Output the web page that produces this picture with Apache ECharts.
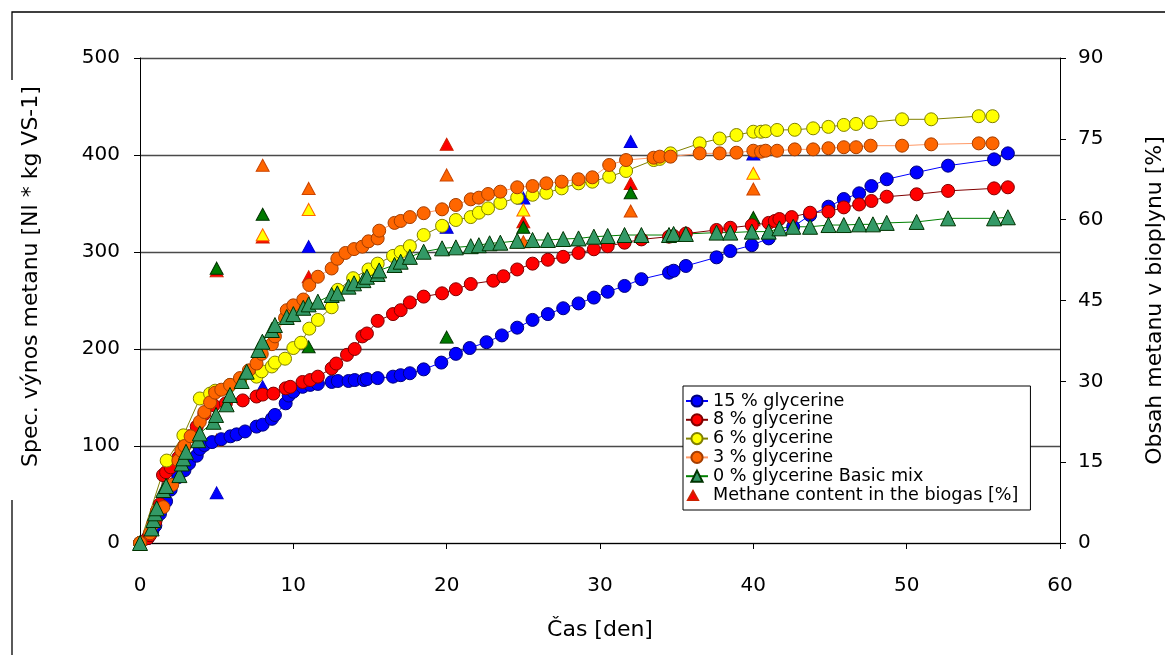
<!DOCTYPE html>
<html>
<head>
<meta charset="utf-8">
<script src="https://cdn.jsdelivr.net/npm/echarts@6/dist/echarts.min.js"></script>
<style>
html,body{margin:0;padding:0;background:#fff;}
#chart{width:1165px;height:655px;}
</style>
</head>
<body>
<div id="chart"></div>
<script>
// 15 % glycerine
var blueX = [0,0.5,0.8,1,1.3,1.7,2,2.5,2.9,3.2,3.7,3.9,4.2,4.7,5.3,5.9,6.3,6.85,7.6,8,8.6,8.8,9.5,9.7,10,10.6,11.1,11.6,12.5,12.9,13.6,14,14.6,14.8,15.5,16.5,17,17.6,18.5,19.65,20.6,21.5,22.6,23.6,24.6,25.6,26.6,27.6,28.6,29.6,30.5,31.6,32.7,34.5,34.8,35.6,37.6,38.5,39.9,41,42.6,43.7,44.9,45.9,46.9,47.7,48.7,50.65,52.7,55.7,56.6];
var blueY = [0,5,12,18,30,43,55,68,75,82,90,97,101,104,107,110,112,115,120,122,128,132,144,152,156,161,163,164,166,167,167,168,168,169,170,171.5,173,175,179,186,195,201,207,214,222,230,236,242,247,253,259,265,272,278.7,280.7,285.6,294.5,301,307,314,326,338,346.7,354.6,360.5,368,375,382,389,395.5,401.7];

// 8 % glycerine
var redX = [0,0.5,0.65,1,1.3,1.5,1.7,2,2.5,2.9,3.2,3.7,4.2,4.8,5.6,6.7,7.6,8,8.7,9.5,9.8,10.6,11.1,11.6,12.5,12.8,13.5,14,14.5,14.8,15.5,16.5,17,17.6,18.5,19.7,20.6,21.57,23.04,23.7,24.6,25.6,26.6,27.6,28.6,29.6,30.5,31.6,32.7,34.5,34.8,35.6,37.6,38.5,39.9,41,41.4,41.7,42.5,43.7,44.9,45.9,46.9,47.7,48.7,50.65,52.7,55.7,56.6];
var redY = [0,5,8,22,40,70,73,78,88,100,110,120,133,142,144,147,151,153,154,159.5,161,166,168,171.5,180,185,194,200,213,216,229,236,240,248,254,257.4,261.6,267,270.4,275,282,288,292,295,299,302.8,306,309.6,313,315.8,316.5,319,322.7,325,327.5,330,332,334,336,340.5,341.6,346,349,352.6,357,359.5,363,365.6,366.7];

// 6 % glycerine
var yellowX = [0,1.74,2.83,3.9,4.57,4.9,5.87,6.52,7.6,7.94,8.6,8.8,9.46,10,10.5,11.04,11.6,12.5,12.9,13.9,14.9,15.5,16.5,17,17.6,18.5,19.7,20.6,21.57,22.1,22.7,23.5,24.6,25.6,26.5,27.5,28.6,29.5,30.6,31.7,33.5,33.9,34.6,36.5,37.8,38.9,40,40.5,40.8,41.55,42.7,43.9,44.9,45.9,46.7,47.65,49.7,51.6,54.7,55.6];
var yellowY = [0,85,111,149,154,157,163,166,171.5,177,182,186,190,201,206.5,221,230,243,261,273,282,288,296,300,306,317.5,327,333,336,340.5,345,350.5,356,359,361,365.6,370.8,372.5,377.6,383.5,394.8,396,401.7,412,417,420.6,424,424,424.5,425.8,426,427.5,429,431,432,433.7,436.8,436.8,440,440];

// 3 % glycerine
var orangeX = [0,0.65,0.87,1.1,1.52,2.1,2.5,2.7,2.9,3.3,3.9,4.2,4.57,4.9,5.3,5.87,6.52,7.1,7.6,7.94,8.6,8.8,9.46,9.57,10,10.65,11.04,11.6,12.5,12.87,13.4,13.96,14.5,14.9,15.5,15.6,16.6,17,17.6,18.5,19.7,20.6,21.57,22.1,22.7,23.5,24.6,25.6,26.5,27.5,28.6,29.5,30.6,31.7,33.5,33.9,34.6,36.5,37.8,38.9,40,40.5,40.8,41.55,42.7,43.9,44.9,45.9,46.7,47.65,49.7,51.6,54.7,55.6];
var orangeY = [0,10,20,33,37,60,85,95,100,110,125,135,145,155,158,163,170,178,185,195,205,213,232,240,245,251,266,274.5,283,293,299,303,305.5,311,314,322,330,332,336,340,344,348.5,354.3,356,359.8,362.2,366.7,368,370.8,372.5,375,377,389.7,394.8,397.2,398.3,398.3,401.7,401.7,402.4,404.4,403.4,404.4,404.4,405.8,405.8,407,408,408,409.6,409.6,411,412,412];

// 0 % glycerine Basic mix
var greenX = [0,0.76,0.87,0.98,1.09,1.52,1.7,2.57,2.72,2.83,3,3.8,3.9,4.8,4.96,5.65,5.87,6.63,6.96,7.72,7.98,8.6,8.8,9.57,10,10.65,11,11.6,12.5,12.87,13.6,13.96,14.57,14.8,15.5,15.6,16.6,17,17.6,18.5,19.7,20.6,21.57,22.1,22.8,23.5,24.6,25.6,26.6,27.6,28.6,29.6,30.5,31.6,32.7,34.5,34.8,35.6,37.6,38.5,39.9,41,41.7,42.6,43.7,44.9,45.9,46.9,47.8,48.7,50.65,52.7,55.7,56.6];
var greenY = [0,15,23.7,30.6,35.8,54.6,58.8,70,82,87.3,94,106,113,125,132,143,152.6,167,176.6,199,207.5,219.6,224.7,233,236,242.5,246,248.8,255.7,257.4,264.3,267.7,271,274.5,277.3,281,286.6,290,295,300.3,303.8,304.8,306,307,309,309.6,311.5,312.4,312.4,313.4,314,315.8,316.5,317.5,317.5,317.5,318.6,318.6,320,320,321,321,324.4,326,326,327.8,327.8,328.5,328.5,330,331,334.7,334.7,335.8];

// Methane content in the biogas [%] (right axis), one set per mixture
var methDays = [5,8,11,20,25,32,40];
var methBlue = [9.3,29.0,55.0,58.6,64.0,74.5,72.2];
var methRed = [50.5,56.8,49.4,74.0,59.6,66.7,60.0];
var methYellowDays = [8,11,25,40];
var methYellow = [57.2,61.9,61.8,68.6];
var methOrange = [19.1,70.1,65.8,68.3,55.9,61.6,65.7];
var methGreen = [51.0,61.0,36.4,38.2,58.6,65.0,60.4];

function pairs(xs, ys) {
    var out = [];
    for (var i = 0; i < xs.length; i++) out.push([xs[i], ys[i]]);
    return out;
}

var FONT = 'DejaVu Sans';
var chart = echarts.init(document.getElementById('chart'), null, {renderer: 'canvas'});

function lineSeries(name, xs, ys, fill, border, lineColor, symbol, size) {
    return {
        name: name,
        type: 'line',
        data: pairs(xs, ys),
        symbol: symbol,
        symbolSize: size,
        showAllSymbol: true,
        lineStyle: {color: lineColor, width: 1},
        itemStyle: {color: fill, borderColor: border, borderWidth: 1},
        emphasis: {disabled: true},
        animation: false
    };
}

function methSeries(name, xs, ys, fill, border) {
    return {
        name: name,
        type: 'scatter',
        yAxisIndex: 1,
        data: pairs(xs, ys),
        symbol: 'triangle',
        symbolSize: [13, 12],
        itemStyle: {color: fill, borderColor: border, borderWidth: 1, opacity: 1},
        emphasis: {disabled: true},
        animation: false,
        z: 3
    };
}

var option = {
    backgroundColor: '#fff',
    animation: false,
    textStyle: {fontFamily: FONT},
    grid: {left: 140, right: 105, top: 58, bottom: 112, outerBoundsMode: 'none'},
    legend: {
        orient: 'vertical',
        left: 683,
        top: 386,
        padding: [6, 12, 6, 2],
        itemGap: 0.8,
        itemWidth: 22,
        itemHeight: 14,
        backgroundColor: '#fff',
        borderColor: '#000',
        borderWidth: 1,
        borderRadius: 0,
        textStyle: {fontFamily: FONT, fontSize: 17.6, lineHeight: 17, color: '#000'},
        data: [
            '15 % glycerine', '8 % glycerine', '6 % glycerine', '3 % glycerine', '0 % glycerine Basic mix',
            {name: 'Methane content in the biogas [%]', icon: 'path://M0,0 M22,14 M2,12 L7,3 L12,12 Z'}
        ]
    },
    xAxis: {
        type: 'value',
        min: 0, max: 60, interval: 10,
        name: 'Čas [den]',
        nameLocation: 'middle',
        nameGap: 76,
        nameTextStyle: {fontFamily: FONT, fontSize: 22, color: '#000'},
        axisLine: {show: true, onZero: false, lineStyle: {color: '#000', width: 1}},
        axisTick: {show: true, inside: false, length: 6, lineStyle: {color: '#000'}},
        axisLabel: {fontFamily: FONT, fontSize: 20, color: '#000', margin: 33},
        splitLine: {show: false}
    },
    yAxis: [{
        type: 'value',
        min: 0, max: 500, interval: 100,
        name: 'Spec. výnos metanu [Nl * kg VS-1]',
        nameLocation: 'middle',
        nameGap: 98,
        nameRotate: 90,
        nameTextStyle: {fontFamily: FONT, fontSize: 22, color: '#000', padding: [0, 0, 0, 48]},
        axisLine: {show: true, lineStyle: {color: '#000', width: 1}},
        axisTick: {show: true, inside: false, length: 6, lineStyle: {color: '#000'}},
        axisLabel: {fontFamily: FONT, fontSize: 20, color: '#000', margin: 20},
        splitLine: {show: true, lineStyle: {color: '#4a4a4a', width: 1.3}}
    }, {
        type: 'value',
        min: 0, max: 90, interval: 15,
        name: 'Obsah metanu v bioplynu [%]',
        nameLocation: 'middle',
        nameGap: 84,
        nameRotate: 90,
        nameTextStyle: {fontFamily: FONT, fontSize: 22, color: '#000'},
        axisLine: {show: true, lineStyle: {color: '#000', width: 1}},
        axisTick: {show: true, inside: false, length: 6, lineStyle: {color: '#000'}},
        axisLabel: {fontFamily: FONT, fontSize: 20, color: '#000', margin: 18},
        splitLine: {show: false}
    }],
    graphic: [
        {type: 'polyline', silent: true, shape: {points: [[12, 80], [12, 12], [1165, 12]]}, style: {stroke: '#000', lineWidth: 1.3, fill: null}},
        {type: 'line', silent: true, shape: {x1: 12, y1: 500, x2: 12, y2: 655}, style: {stroke: '#000', lineWidth: 1.3}}
    ],
    series: [
        methSeries('m-blue', methDays, methBlue, '#0000ff', '#0000cc'),
        methSeries('Methane content in the biogas [%]', methDays, methRed, '#ff0000', '#cc2200'),
        methSeries('m-yellow', methYellowDays, methYellow, '#ffff00', '#ff6600'),
        methSeries('m-orange', methDays, methOrange, '#ff6600', '#cc4400'),
        methSeries('m-green', methDays, methGreen, '#007a00', '#003300'),
        lineSeries('15 % glycerine', blueX, blueY, '#0000ff', '#00007a', '#0000ff', 'circle', 13),
        lineSeries('8 % glycerine', redX, redY, '#ff0000', '#800000', '#800000', 'circle', 13),
        lineSeries('6 % glycerine', yellowX, yellowY, '#ffff00', '#808000', '#808000', 'circle', 13),
        lineSeries('3 % glycerine', orangeX, orangeY, '#ff6600', '#a33d00', '#ff9966', 'circle', 13),
        lineSeries('0 % glycerine Basic mix', greenX, greenY, '#339966', '#003300', '#008000', 'triangle', 15)
    ]
};

chart.setOption(option);
</script>
</body>
</html>
